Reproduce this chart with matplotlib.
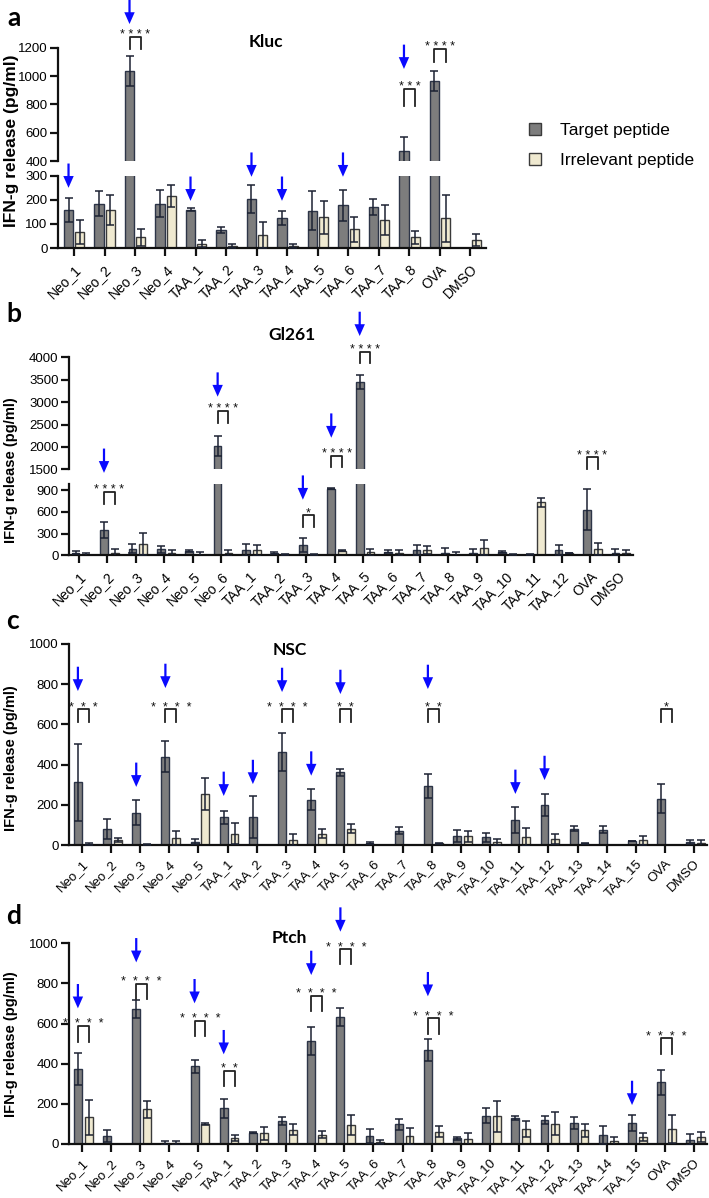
import numpy as np
import matplotlib
matplotlib.use('Agg')
import matplotlib.pyplot as plt
from matplotlib.patches import Patch

plt.rcParams['font.family'] = ['Liberation Sans', 'DejaVu Sans']

nan = np.nan

# ---------------- data ----------------
labels_a = ['Neo_1', 'Neo_2', 'Neo_3', 'Neo_4', 'TAA_1', 'TAA_2', 'TAA_3', 'TAA_4',
            'TAA_5', 'TAA_6', 'TAA_7', 'TAA_8', 'OVA', 'DMSO']
target_a = [156, 184, 1035, 184, 159, 75, 203, 124, 155, 177, 169, 473, 967, nan]
target_a_err = [50, 52, 105, 55, 6, 11, 57, 28, 80, 65, 33, 95, 72, nan]
irr_a = [66, 158, 44, 215, 18, 7, 54, 8, 128, 77, 117, 44, 124, 35]
irr_a_err = [50, 63, 35, 45, 15, 9, 52, 8, 68, 52, 62, 28, 98, 25]
arrows_a = [(0, 250), (2, 1367), (4, 196), (6, 296), (7, 196), (9, 296), (11, 1050)]
sig_a = [(2, '****', 1275, 1191), (11, '***', 909, 789), (12, '****', 1191, 1099)]

labels_b = ['Neo_1', 'Neo_2', 'Neo_3', 'Neo_4', 'Neo_5', 'Neo_6', 'TAA_1', 'TAA_2',
            'TAA_3', 'TAA_4', 'TAA_5', 'TAA_6', 'TAA_7', 'TAA_8', 'TAA_9', 'TAA_10',
            'TAA_11', 'TAA_12', 'OVA', 'DMSO']
target_b = [36, 350, 91, 83, 60, 2020, 73, 28, 143, 920, 3442, 52, 71, 30, 33, 50, 15, 73, 629, 36]
target_b_err = [20, 115, 65, 50, 14, 230, 80, 15, 100, 10, 160, 20, 65, 65, 50, 12, 5, 69, 280, 51]
irr_b = [3, 28, 156, 28, 10, 28, 71, 15, 10, 62, 43, 28, 71, 10, 105, 5, 729, 28, 87, 28]
irr_b_err = [25, 63, 149, 50, 30, 40, 75, 8, 10, 8, 50, 40, 55, 30, 105, 15, 60, 3, 88, 45]
arrows_b = [(1, 1136), (5, 3121), (8, 766), (9, 2205), (10, 4475)]
sig_b = [(1, '****', 873, 706), (5, '****', 2801, 2527), (8, '*', 558, 396),
         (9, '****', 1804, 1545), (10, '****', 4125, 3866), (18, '****', 1768, 1507)]

labels_cd = ['Neo_1', 'Neo_2', 'Neo_3', 'Neo_4', 'Neo_5', 'TAA_1', 'TAA_2', 'TAA_3',
             'TAA_4', 'TAA_5', 'TAA_6', 'TAA_7', 'TAA_8', 'TAA_9', 'TAA_10', 'TAA_11',
             'TAA_12', 'TAA_13', 'TAA_14', 'TAA_15', 'OVA', 'DMSO']
target_c = [311, 79, 161, 440, 16, 138, 138, 461, 226, 361, 10, 72, 295, 44, 39, 125,
            198, 82, 77, 20, 231, 16]
target_c_err = [190, 48, 62, 75, 12, 33, 105, 95, 53, 18, 3, 18, 60, 30, 23, 63,
                54, 12, 18, 2, 70, 10]
irr_c = [5, 25, 2, 33, 254, 57, nan, 25, 57, 82, nan, nan, 8, 43, 16, 41, 30, 8, nan, 23, nan, 8]
irr_c_err = [5, 10, 2, 35, 80, 53, nan, 30, 22, 20, nan, nan, 3, 27, 16, 44, 24, 3, nan, 23, nan, 18]
arrows_c = [(0, 766), (2, 289), (3, 781), (5, 244), (6, 303), (7, 761), (8, 345), (9, 751),
            (12, 776), (15, 254), (16, 323)]
sig_c = [(0, '***', 675, 613), (3, '****', 675, 613), (7, '****', 675, 613),
         (9, '**', 675, 613), (12, '**', 675, 613), (20, '*', 675, 613)]

target_d = [375, 40, 673, 3, 387, 177, 57, 113, 512, 635, 38, 98, 468, 28, 140, 132,
            120, 103, 45, 103, 307, 22]
target_d_err = [80, 32, 45, 10, 32, 45, 4, 20, 70, 45, 35, 28, 55, 8, 37, 10,
                20, 30, 47, 40, 62, 27]
irr_d = [133, nan, 173, 3, 98, 28, 53, 72, 47, 95, 12, 38, 62, 23, 138, 73, 102, 68, 13, 37, 75, 37]
irr_d_err = [88, nan, 43, 10, 5, 15, 33, 27, 16, 48, 10, 43, 28, 32, 78, 40, 57, 33, 23, 20, 68, 25]
arrows_d = [(0, 676), (2, 905), (4, 701), (5, 447), (8, 842), (9, 1058), (12, 736), (19, 194)]
sig_d = [(0, '****', 589, 510), (2, '****', 797, 722), (4, '****', 614, 538),
         (5, '**', 365, 291), (8, '****', 739, 663), (9, '****', 970, 895),
         (12, '****', 626, 546), (20, '****', 527, 450)]

# ---------------- style ----------------
W, H = 709, 1198
fig = plt.figure(figsize=(W / 100, H / 100), dpi=100)

TARGET_FC = '#7d7d7d'
IRR_FC = '#efe9d0'
EDGE_T = '#2d3548'
EDGE_I = '#3a3a3a'
ERR_C = '#1c2233'
ARROW_C = '#0a0aff'


def px_axes(l, r, t, b):
    return fig.add_axes([l / W, 1 - b / H, (r - l) / W, (b - t) / H])


def style(ax):
    for s in ('top', 'right'):
        ax.spines[s].set_visible(False)
    for s in ('left', 'bottom'):
        ax.spines[s].set_linewidth(1.6)
        ax.spines[s].set_color('#111111')
    ax.tick_params(axis='both', width=1.6, length=6, color='#111111', labelsize=9.5, pad=1.5)
    ax.patch.set_alpha(0)


def draw_bars(ax, tv, te, iv, ie, off_t, off_i, width):
    tv, te, iv, ie = (np.asarray(a, float) for a in (tv, te, iv, ie))
    x = np.arange(len(tv))
    mt = ~np.isnan(tv)
    mi = ~np.isnan(iv)
    ax.bar(x[mt] + off_t, tv[mt], width, color=TARGET_FC, edgecolor=EDGE_T, linewidth=1.0, zorder=2)
    ax.bar(x[mi] + off_i, iv[mi], width, color=IRR_FC, edgecolor=EDGE_I, linewidth=1.0, zorder=2)
    ax.errorbar(x[mt] + off_t, tv[mt], yerr=te[mt], fmt='none', ecolor=ERR_C,
                elinewidth=1.1, capsize=2.8, capthick=1.1, zorder=3)
    ax.errorbar(x[mi] + off_i, iv[mi], yerr=ie[mi], fmt='none', ecolor=ERR_C,
                elinewidth=1.1, capsize=2.8, capthick=1.1, zorder=3)


def set_xlabels(ax, labels, fs, pad):
    ax.set_xticks(np.arange(len(labels)))
    ax.set_xticklabels(labels, rotation=45, ha='right', va='top',
                       rotation_mode='anchor', fontsize=fs)
    ax.tick_params(axis='x', pad=pad)


def pick(axes_pair, split, v):
    lo, hi = axes_pair
    if hi is None or v < split:
        return lo
    return hi


def draw_arrows(axes_pair, split, arrows, off_t):
    for i, v in arrows:
        ax = pick(axes_pair, split, v)
        ax.annotate('', xy=(i + off_t, v), xytext=(0, 17.5), textcoords='offset points',
                    arrowprops=dict(facecolor=ARROW_C, edgecolor='none', width=1.6,
                                    headwidth=7.5, headlength=8.5, shrink=0),
                    annotation_clip=False, zorder=5)


def draw_sig(axes_pair, split, sigs, off_t, off_i, sep, fs):
    for i, st, top, bot in sigs:
        ax = pick(axes_pair, split, top)
        x0, x1 = i + off_t, i + off_i
        ax.plot([x0, x0, x1, x1], [bot, top, top, bot], color='#222222', lw=1.3,
                clip_on=False, zorder=4)
        ax.annotate(sep.join(st), xy=((x0 + x1) / 2, top), xytext=(0, -1),
                    textcoords='offset points', ha='center', va='baseline',
                    fontsize=fs, color='#111111', annotation_clip=False)


def ylab(yc, fs):
    fig.text(11.5 / W, 1 - yc / H, 'IFN-g release (pg/ml)', rotation=90, ha='center',
             va='center', fontweight='bold', fontsize=fs)


def title(x, y, s):
    fig.text(x / W, 1 - y / H, s, ha='center', va='center', fontweight='bold',
             fontsize=12.5, family=['Lato', 'DejaVu Sans'])


def letter(x, y, s):
    fig.text(x / W, 1 - y / H, s, ha='center', va='center', fontweight='bold',
             fontsize=19, family=['Lato', 'DejaVu Sans'])


# ---------------- panel a ----------------
oa_t, oa_i, wa = -0.18, 0.19, 0.30
xlim_a = (-0.525, 13.51)
a_lo = px_axes(58, 486, 175.8, 248)
a_hi = px_axes(58, 486, 47.7, 161)
for ax in (a_lo, a_hi):
    style(ax)
    draw_bars(ax, target_a, target_a_err, irr_a, irr_a_err, oa_t, oa_i, wa)
    ax.set_xlim(*xlim_a)
a_lo.set_ylim(0, 300)
a_lo.set_yticks([0, 100, 200, 300])
a_hi.set_ylim(400, 1200)
a_hi.set_yticks([400, 600, 800, 1000, 1200])
a_hi.spines['bottom'].set_visible(False)
a_hi.set_xticks([])
set_xlabels(a_lo, labels_a, 10, 4)
draw_arrows((a_lo, a_hi), 400, arrows_a, oa_t)
draw_sig((a_lo, a_hi), 400, sig_a, oa_t, oa_i, ' ', 9)

# ---------------- panel b ----------------
ob_t, ob_i, wb = -0.12, 0.26, 0.27
xlim_b = (-0.352, 19.5)
b_lo = px_axes(69, 633, 484.2, 555.3)
b_hi = px_axes(69, 633, 357.3, 469.3)
for ax in (b_lo, b_hi):
    style(ax)
    draw_bars(ax, target_b, target_b_err, irr_b, irr_b_err, ob_t, ob_i, wb)
    ax.set_xlim(*xlim_b)
b_lo.set_ylim(0, 980)
b_lo.set_yticks([0, 300, 600, 900])
b_hi.set_ylim(1500, 4000)
b_hi.set_yticks([1500, 2000, 2500, 3000, 3500, 4000])
b_hi.spines['bottom'].set_visible(False)
b_hi.set_xticks([])
set_xlabels(b_lo, labels_b, 10, 4)
draw_arrows((b_lo, b_hi), 1500, arrows_b, ob_t)
draw_sig((b_lo, b_hi), 1500, sig_b, ob_t, ob_i, ' ', 9)

# ---------------- panel c ----------------
oc_t, oc_i, wc = -0.13, 0.24, 0.27
xlim_cd = (-0.425, 21.44)
c_ax = px_axes(69.3, 707, 644, 845)
style(c_ax)
draw_bars(c_ax, target_c, target_c_err, irr_c, irr_c_err, oc_t, oc_i, wc)
c_ax.set_xlim(*xlim_cd)
c_ax.set_ylim(0, 1000)
c_ax.set_yticks(range(0, 1001, 200))
set_xlabels(c_ax, labels_cd, 9.5, 3)
draw_arrows((c_ax, None), 0, arrows_c, oc_t)
draw_sig((c_ax, None), 0, sig_c, oc_t, oc_i, '  ', 9)

# ---------------- panel d ----------------
d_ax = px_axes(69.3, 707, 943.3, 1144)
style(d_ax)
draw_bars(d_ax, target_d, target_d_err, irr_d, irr_d_err, oc_t, oc_i, wc)
d_ax.set_xlim(*xlim_cd)
d_ax.set_ylim(0, 1000)
d_ax.set_yticks(range(0, 1001, 200))
set_xlabels(d_ax, labels_cd, 9.5, 3)
draw_arrows((d_ax, None), 0, arrows_d, oc_t)
draw_sig((d_ax, None), 0, sig_d, oc_t, oc_i, '  ', 9)

# ---------------- texts ----------------
ylab(141, 12.5)
ylab(470, 10.5)
ylab(758, 10.5)
ylab(1044, 10.5)
title(266, 42, 'Kluc')
title(292, 335, 'Gl261')
title(290, 650, 'NSC')
title(289, 938, 'Ptch')
letter(14, 18, 'a')
letter(14, 314, 'b')
letter(12, 621, 'c')
letter(14, 916, 'd')

handles = [Patch(facecolor=TARGET_FC, edgecolor=EDGE_I, linewidth=1.0),
           Patch(facecolor=IRR_FC, edgecolor=EDGE_I, linewidth=1.0)]
fig.legend(handles, ['Target peptide', 'Irrelevant peptide'], loc='center left',
           bbox_to_anchor=(529 / W, 1 - 145.5 / H), frameon=False, fontsize=12.5,
           handlelength=0.7, handleheight=0.7, handletextpad=1.1, labelspacing=0.9,
           borderpad=0, borderaxespad=0)

fig.savefig('out.png', dpi=100)
